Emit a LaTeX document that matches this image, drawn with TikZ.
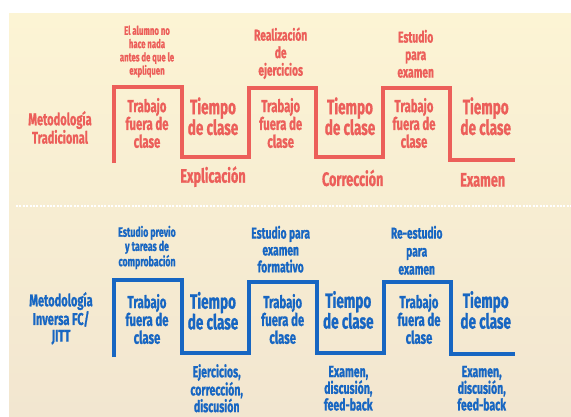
\documentclass[tikz,border=0pt]{standalone}
\usepackage{fontspec}
\setmainfont{Fira Sans}[FakeStretch=0.65,BoldFeatures={FakeBold=0.8}]
\definecolor{rd}{HTML}{EC5F5A}
\definecolor{bl}{HTML}{1766C2}
\definecolor{bgtop}{HTML}{FCF4D4}
\definecolor{bgbot}{HTML}{F2E6D0}
\newcommand\fsSmall{\fontsize{12}{13.3}\selectfont}
\newcommand\fsSmallB{\fontsize{13.5}{14.2}\selectfont}
\newcommand\fsMid{\fontsize{15.8}{17.5}\selectfont}
\newcommand\fsTrab{\fontsize{17.5}{17.8}\selectfont}
\newcommand\fsTiem{\fontsize{20.8}{20.7}\selectfont}
\newcommand\fsBot{\fontsize{19.5}{19.5}\selectfont}
\newcommand\fsBotB{\fontsize{16.2}{16.7}\selectfont}
\begin{document}
\begin{tikzpicture}[x=1pt,y=-1pt,
  txt/.style={align=center,inner sep=0pt,font=\bfseries},
  rtxt/.style={txt,text=rd},
  btxt/.style={txt,text=bl},
  wave/.style={line width=4.7pt,line join=miter,line cap=butt}]
\useasboundingbox (0,0) rectangle (571,416);
\fill[white] (0,0) rectangle (571,416);
\fill[top color=bgtop,bottom color=bgbot] (9,13) rectangle (571,416);
\draw[white,line width=1.6pt,dash pattern=on 2pt off 1.4pt] (16,206) coordinate (dl) -- (571,206) coordinate (dr);

% traditional wave
\draw[wave,rd] (114,163) -- (114,87) -- (182,87) -- (182,157) -- (249,157) -- (249,88) -- (316,88) -- (316,157) -- (383,157) -- (383,88) -- (450,88) -- (450,160) -- (515,160);
% inverse wave
\draw[wave,bl] (114,357) -- (114,280) -- (182,280) -- (182,353) -- (249,353) -- (249,282) -- (317,282) -- (317,353) -- (384,353) -- (384,282) -- (451,282) -- (451,354) -- (515,354);

% top texts
\node[rtxt,font=\bfseries\fontsize{17}{18.4}\selectfont] (m1) at (60,127.5) {Metodología\\Tradicional};
\node[rtxt,font=\bfseries\fsSmall] (n1) at (147,51.5) {El alumno no\\hace nada\\antes de que le\\expliquen};
\node[rtxt,font=\bfseries\fsTrab] (t1) at (147,123) {Trabajo\\fuera de\\clase};
\node[rtxt,font=\bfseries\fsTiem] (c1) at (213,116.3) {Tiempo\\de clase};
\node[rtxt,font=\bfseries\fsBot] (e1) at (213,176.7) {Explicación};
\node[rtxt,font=\bfseries\fsMid] (r1) at (280.7,53.3) {Realización\\de\\ejercicios};
\node[rtxt,font=\bfseries\fsTrab] (t2) at (280.7,123) {Trabajo\\fuera de\\clase};
\node[rtxt,font=\bfseries\fsTiem] (c2) at (350,116.3) {Tiempo\\de clase};
\node[rtxt,font=\bfseries\fsBot] (e2) at (352.7,178) {Corrección};
\node[rtxt,font=\bfseries\fsMid] (s1) at (415.7,53.8) {Estudio\\para\\examen};
\node[rtxt,font=\bfseries\fsTrab] (t3) at (414,123) {Trabajo\\fuera de\\clase};
\node[rtxt,font=\bfseries\fsTiem] (c3) at (485.7,116.3) {Tiempo\\de clase};
\node[rtxt,font=\bfseries\fsBot] (e3) at (482.7,180) {Examen};

% bottom texts
\node[btxt,font=\bfseries\fontsize{17}{16.7}\selectfont] (m2) at (61,318.3) {Metodología\\Inversa FC/\\JITT};
\node[btxt,font=\bfseries\fsSmallB] (p1) at (147,247.5) {Estudio previo\\y tareas de\\comprobación};
\node[btxt,font=\bfseries\fsTrab] (bt1) at (147,319) {Trabajo\\fuera de\\clase};
\node[btxt,font=\bfseries\fsTiem] (bc1) at (213,310.8) {Tiempo\\de clase};
\node[btxt,font=\bfseries\fsBotB] (be1) at (216.7,388.3) {Ejercicios,\\corrección,\\discusión};
\node[btxt,font=\bfseries\fontsize{15.8}{16.9}\selectfont] (p2) at (280.7,249.2) {Estudio para\\examen\\formativo};
\node[btxt,font=\bfseries\fsTrab] (bt2) at (282.7,319) {Trabajo\\fuera de\\clase};
\node[btxt,font=\bfseries\fsTiem] (bc2) at (348.3,310) {Tiempo\\de clase};
\node[btxt,font=\bfseries\fsBotB] (be2) at (348.3,388.3) {Examen,\\discusión,\\feed-back};
\node[btxt,font=\bfseries\fontsize{15.8}{18}\selectfont] (p3) at (416.7,250.3) {Re-estudio\\para\\examen};
\node[btxt,font=\bfseries\fsTrab] (bt3) at (419,319) {Trabajo\\fuera de\\clase};
\node[btxt,font=\bfseries\fsTiem] (bc3) at (485.7,310) {Tiempo\\de clase};
\node[btxt,font=\bfseries\fsBotB] (be3) at (481.7,388.3) {Examen,\\discusión,\\feed-back};
\end{tikzpicture}
\end{document}
